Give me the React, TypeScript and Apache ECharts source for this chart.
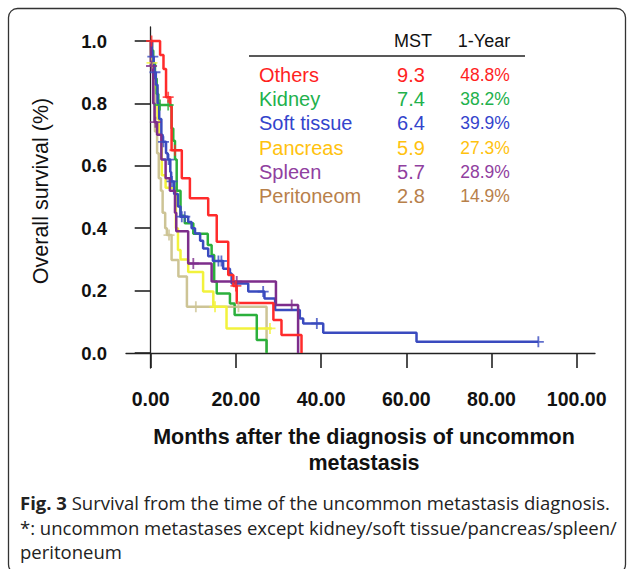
import React, { useEffect, useRef } from 'react';
import * as echarts from 'echarts';

// ---------- data ----------
const groupNames = ['Others', 'Kidney', 'Soft tissue', 'Pancreas', 'Spleen', 'Peritoneom'];
const mstValues = ['9.3', '7.4', '6.4', '5.9', '5.7', '2.8'];
const oneYearValues = ['48.8%', '38.2%', '39.9%', '27.3%', '28.9%', '14.9%'];
const tableHeaders = ['MST', '1-Year'];

const xTickValues = [0, 20, 40, 60, 80, 100];
const yTickValues = [0, 0.2, 0.4, 0.6, 0.8, 1.0];

const xTitleLines = ['Months after the diagnosis of uncommon', 'metastasis'];
const yTitle = 'Overall survival (%)';
const captionBold = 'Fig. 3';
const captionLines = [
  ' Survival from the time of the uncommon metastasis diagnosis.',
  '*: uncommon metastases except kidney/soft tissue/pancreas/spleen/',
  'peritoneum',
];

// Kaplan-Meier step curves: [months, survival]
const othersCurve = [
  [0, 1.0], [2.2, 0.955], [3.0, 0.91], [3.6, 0.82], [4.6, 0.79], [4.9, 0.65], [7.3, 0.56],
  [9.2, 0.496], [13.5, 0.442], [15.5, 0.357], [18.2, 0.25], [19.4, 0.215], [20.2, 0.16],
  [28.8, 0.106], [30.7, 0.058], [35.4, 0],
];
const othersCensored = [[0.2, 1.0], [4.1, 0.82], [5.7, 0.65], [20.0, 0.215]];

const kidneyCurve = [
  [0, 1.0], [0.3, 0.97], [0.6, 0.93], [1.0, 0.88], [1.4, 0.83], [1.8, 0.795], [4.9, 0.72],
  [5.3, 0.68], [5.7, 0.62], [6.1, 0.52], [7.0, 0.44], [8.0, 0.416], [10.0, 0.382],
  [13.4, 0.346], [14.3, 0.314], [14.9, 0.229], [15.5, 0.191], [18.6, 0.159], [19.7, 0.122],
  [24.9, 0.042], [27.2, 0],
];
const kidneyCensored = [[2.2, 0.795], [4.1, 0.795]];

const softTissueCurve = [
  [0, 1.0], [0.3, 0.95], [0.7, 0.9], [1.2, 0.86], [1.6, 0.8], [2.0, 0.75], [2.5, 0.7],
  [2.8, 0.677], [3.6, 0.64], [4.0, 0.62], [4.6, 0.58], [4.8, 0.55], [5.5, 0.51], [6.4, 0.47],
  [7.0, 0.437], [8.8, 0.42], [9.6, 0.4], [10.4, 0.383], [11.6, 0.36], [12.3, 0.335],
  [13.5, 0.31], [14.6, 0.295], [17.0, 0.27], [18.6, 0.255], [19.0, 0.223], [22.9, 0.197],
  [26.7, 0.175], [29.2, 0.138], [35.0, 0.111], [35.8, 0.095], [40.5, 0.065], [62.4, 0.036],
  [91.0, 0.036],
];
const softTissueCensored = [
  [0.5, 0.95], [1.0, 0.9], [3.0, 0.677], [4.2, 0.62], [5.0, 0.55], [7.3, 0.437], [8.0, 0.437],
  [15.9, 0.295], [16.6, 0.295], [26.4, 0.197], [39.0, 0.095], [91.0, 0.036],
];

const pancreasCurve = [
  [0, 1.0], [0.1, 0.93], [0.8, 0.89], [1.2, 0.85], [1.6, 0.75], [2.0, 0.7], [2.6, 0.57],
  [3.5, 0.53], [5.9, 0.4], [6.4, 0.33], [7.0, 0.3], [8.8, 0.26], [12.3, 0.197], [14.7, 0.148],
  [17.8, 0.079], [28.4, 0.079],
];
const pancreasCensored = [[0.3, 0.93], [15.1, 0.148], [28.0, 0.079]];

const spleenCurve = [
  [0, 1.0], [0.05, 0.92], [0.6, 0.8], [0.9, 0.74], [1.5, 0.7], [2.5, 0.62], [3.5, 0.56],
  [4.5, 0.52], [5.7, 0.45], [6.0, 0.39], [8.8, 0.287], [14.3, 0.229], [29.4, 0.154], [34.6, 0],
];
const spleenCensored = [[0.2, 0.92], [1.1, 0.74], [10.0, 0.287], [20.2, 0.229], [33.1, 0.154]];

const peritoneomCurve = [
  [0, 1.0], [0.3, 0.93], [0.6, 0.86], [1.0, 0.71], [1.5, 0.64], [1.9, 0.56], [2.4, 0.52],
  [2.8, 0.45], [3.4, 0.4], [3.8, 0.378], [4.9, 0.298], [6.5, 0.245], [8.5, 0.148], [27.2, 0],
];
const peritoneomCensored = [[4.3, 0.378], [10.6, 0.148], [20.6, 0.148]];

// ---------- styles ----------
const curves = [othersCurve, kidneyCurve, softTissueCurve, pancreasCurve, spleenCurve, peritoneomCurve];
const censored = [othersCensored, kidneyCensored, softTissueCensored, pancreasCensored, spleenCensored, peritoneomCensored];
const lineColors = ['#ff2b2b', '#2bb03c', '#3a4bbf', '#f2f23c', '#7d2d8c', '#cdc495'];
const textColors = ['#ff1f1f', '#22b14c', '#3344cc', '#ffc20e', '#9040a0', '#b8804a'];
const drawOrder = [5, 3, 1, 2, 4, 0];

const FONT = '"Liberation Sans", Arial, sans-serif';
const CAP_FONT = '"Open Sans", "Noto Sans", sans-serif';
const PLUS = 'path://M5,0h2v5h5v2h-5v5h-2v-5h-5v-2h5z';

export default function App() {
  const ref = useRef<HTMLDivElement>(null);
  useEffect(() => {
    document.body.style.margin = '0';
    const chart = echarts.init(ref.current!, null, { renderer: 'svg' });

    const series: any[] = [];
    drawOrder.forEach((i) => {
      series.push({
        type: 'line',
        name: groupNames[i],
        data: curves[i],
        step: 'end',
        showSymbol: false,
        clip: false,
        lineStyle: { color: lineColors[i], width: 2.5 },
        z: 2,
      });
    });
    drawOrder.forEach((i) => {
      series.push({
        type: 'scatter',
        name: groupNames[i] + ' censored',
        data: censored[i],
        symbol: PLUS,
        symbolSize: 11,
        clip: false,
        itemStyle: { color: lineColors[i] },
        z: 3,
      });
    });

    const graphic: any[] = [];
    graphic.push({
      type: 'rect',
      silent: true,
      shape: { x: 8.5, y: 8.5, width: 617, height: 565, r: 9 },
      style: { fill: 'none', stroke: '#333', lineWidth: 1.3 },
    });
    // table header
    graphic.push({
      type: 'text', x: 413, y: 41,
      style: { text: tableHeaders[0], font: `18px ${FONT}`, fill: '#111', align: 'center', verticalAlign: 'middle' },
    });
    graphic.push({
      type: 'text', x: 484, y: 41,
      style: { text: tableHeaders[1], font: `18px ${FONT}`, fill: '#111', align: 'center', verticalAlign: 'middle' },
    });
    graphic.push({
      type: 'line',
      shape: { x1: 249, y1: 56, x2: 525, y2: 56 },
      style: { stroke: '#222', lineWidth: 1.6 },
    });
    groupNames.forEach((n, i) => {
      const y = 75 + i * 24.2;
      graphic.push({
        type: 'text', x: 259, y,
        style: { text: n, font: `20px ${FONT}`, fill: textColors[i], align: 'left', verticalAlign: 'middle' },
      });
      graphic.push({
        type: 'text', x: 411, y,
        style: { text: mstValues[i], font: `20px ${FONT}`, fill: textColors[i], align: 'center', verticalAlign: 'middle' },
      });
      graphic.push({
        type: 'text', x: 485, y,
        style: { text: oneYearValues[i], font: `17.5px ${FONT}`, fill: textColors[i], align: 'center', verticalAlign: 'middle' },
      });
    });
    // axis titles
    graphic.push({
      type: 'text', x: 41, y: 191, rotation: Math.PI / 2,
      style: { text: yTitle, font: `21.5px ${FONT}`, fill: '#111', align: 'center', verticalAlign: 'middle' },
    });
    xTitleLines.forEach((t, i) => {
      graphic.push({
        type: 'text', x: 364, y: 437 + i * 26,
        style: { text: t, font: `bold 21.5px ${FONT}`, fill: '#111', align: 'center', verticalAlign: 'middle' },
      });
    });
    // caption
    graphic.push({
      type: 'text', x: 20, y: 502,
      style: {
        text: `{b|${captionBold}}${captionLines[0]}`,
        font: `18.5px ${CAP_FONT}`, fill: '#222', align: 'left', verticalAlign: 'middle',
        rich: { b: { fontWeight: 'bold', fontSize: 18.5, fontFamily: CAP_FONT, fill: '#222' } },
      },
    });
    captionLines.slice(1).forEach((t, i) => {
      graphic.push({
        type: 'text', x: 20, y: 527 + i * 24.5,
        style: { text: t, font: `18.5px ${CAP_FONT}`, fill: '#222', align: 'left', verticalAlign: 'middle' },
      });
    });

    chart.setOption({
      animation: false,
      grid: { left: 126, top: 27, width: 469, height: 341 },
      xAxis: {
        type: 'value', min: -5.8, max: 104.3,
        axisLine: { show: true, lineStyle: { color: '#222', width: 1.3 } },
        axisTick: { show: true, customValues: xTickValues, length: 15, lineStyle: { color: '#222', width: 1.6 } },
        axisLabel: {
          customValues: xTickValues, formatter: (v: number) => v.toFixed(2), margin: 21,
          fontSize: 19.5, fontWeight: 'bold', color: '#111', fontFamily: FONT,
        },
        splitLine: { show: false },
      },
      yAxis: {
        type: 'value', min: -0.048, max: 1.045,
        axisLine: { show: true, lineStyle: { color: '#222', width: 1.3 } },
        axisTick: { show: true, customValues: yTickValues, length: 16, lineStyle: { color: '#222', width: 1.6 } },
        axisLabel: {
          customValues: yTickValues, formatter: (v: number) => v.toFixed(1), margin: 19,
          fontSize: 18.5, fontWeight: 'bold', color: '#111', fontFamily: FONT,
        },
        splitLine: { show: false },
      },
      series,
      graphic,
    });
    return () => chart.dispose();
  }, []);
  return <div ref={ref} style={{ width: 627, height: 569 }} />;
}
